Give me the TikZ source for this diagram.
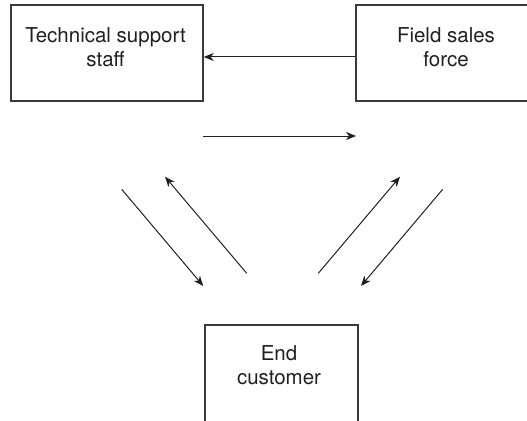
\documentclass[tikz,border=0pt]{standalone}
\usepackage{fontspec}
\setmainfont{TeX Gyre Heros}
\usetikzlibrary{arrows.meta}
\definecolor{ink}{HTML}{231F20}
\definecolor{edge}{HTML}{3A3A3A}
\begin{document}
\begin{tikzpicture}[x=1pt,y=-1pt,
  boxstyle/.style={draw=edge,line width=1.4pt,rectangle,inner sep=0pt},
  labelstyle/.style={anchor=north,align=center,inner sep=0pt,text=ink,
    font=\fontsize{20.5}{24.5}\selectfont},
  arr/.style={draw=ink,line width=1pt,-{Stealth[length=10pt,width=8pt,inset=3pt]}}]
\useasboundingbox (0,0) rectangle (527,420);
\clip (0,0) rectangle (527,420);
% boxes
\node[boxstyle,minimum width=192pt,minimum height=96pt] (ts) at (107,53) {};
\node[boxstyle,minimum width=192pt,minimum height=96pt] (fs) at (452,53) {};
\node[boxstyle,minimum width=153pt,minimum height=100pt] (ec) at (281.5,375) {};
% labels
\node[labelstyle] (tsl) at (105.5,27) {Technical support\\staff};
\node[labelstyle] (fsl) at (446,27) {Field sales\\force};
\node[labelstyle] (ecl) at (279,345) {End\\customer};
% horizontal arrows
\draw[arr] ([yshift=-4pt]fs.west) -- ([yshift=-4pt]ts.east);
\coordinate (b1) at (203,136);
\coordinate (b2) at (356,136);
\draw[arr] (b1) -- (b2);
% diagonal arrows
\coordinate (d1s) at (121.7,189.3); \coordinate (d1e) at (203.3,286);
\coordinate (d2s) at (246.7,273.3); \coordinate (d2e) at (165,176.7);
\coordinate (d3s) at (318.3,273.3); \coordinate (d3e) at (400,176.7);
\coordinate (d4s) at (442.7,189.3); \coordinate (d4e) at (361,286);
\draw[arr] (d1s) -- (d1e);
\draw[arr] (d2s) -- (d2e);
\draw[arr] (d3s) -- (d3e);
\draw[arr] (d4s) -- (d4e);
\end{tikzpicture}
\end{document}
